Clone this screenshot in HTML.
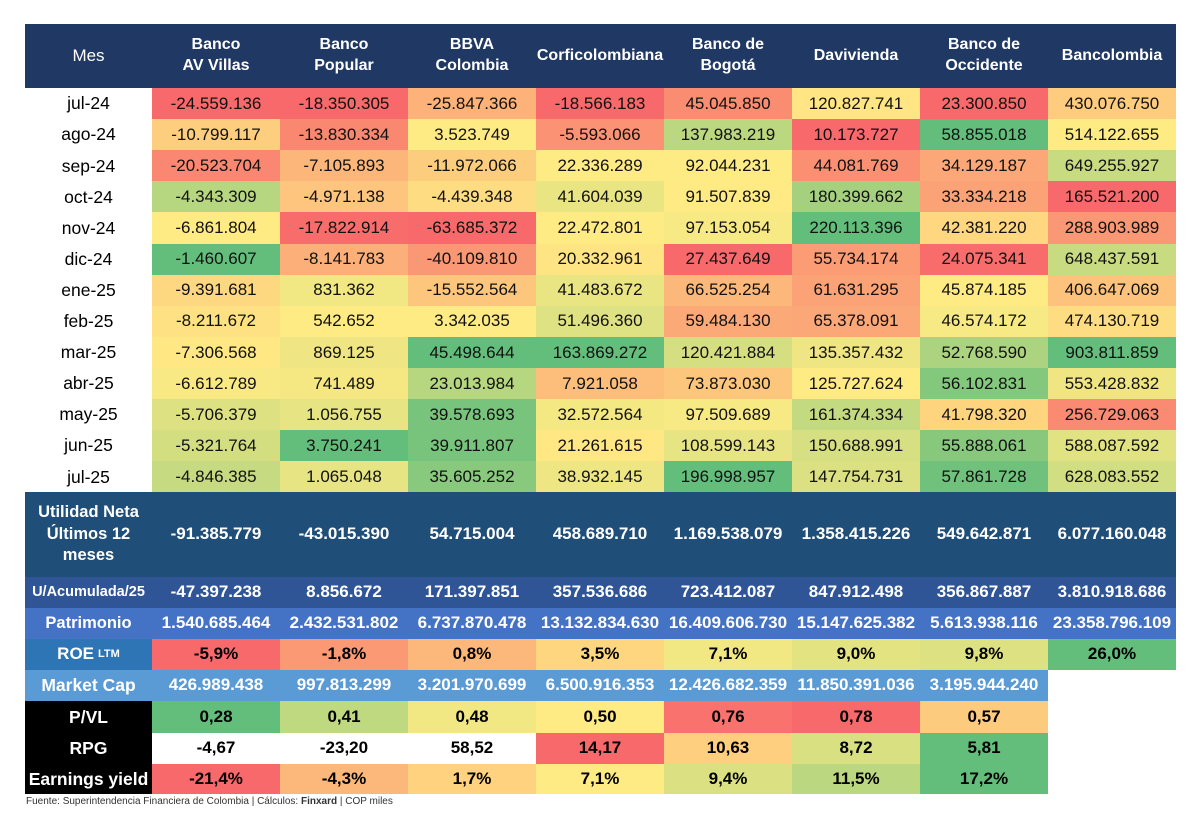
<!DOCTYPE html>
<html><head><meta charset="utf-8">
<style>
body{margin:0;width:1200px;height:819px;background:#fff;font-family:"Liberation Sans",sans-serif;position:relative;overflow:hidden}
.c{position:absolute;display:flex;align-items:center;justify-content:center;text-align:center;box-sizing:border-box;line-height:1.3}
#foot{position:absolute;left:26px;top:796px;font-size:10px;color:#333}
</style></head><body>
<div id="tbl"></div>
<div id="foot">Fuente: Superintendencia Financiera de Colombia | Cálculos: <b>Finxard</b> | COP miles</div>
<script>
const banks=["Banco<br>AV Villas","Banco<br>Popular","BBVA<br>Colombia","Corficolombiana","Banco de<br>Bogotá","Davivienda","Banco de<br>Occidente","Bancolombia"];
const months=["jul-24","ago-24","sep-24","oct-24","nov-24","dic-24","ene-25","feb-25","mar-25","abr-25","may-25","jun-25","jul-25"];
const avVillas=[-24559136,-10799117,-20523704,-4343309,-6861804,-1460607,-9391681,-8211672,-7306568,-6612789,-5706379,-5321764,-4846385];
const popular=[-18350305,-13830334,-7105893,-4971138,-17822914,-8141783,831362,542652,869125,741489,1056755,3750241,1065048];
const bbva=[-25847366,3523749,-11972066,-4439348,-63685372,-40109810,-15552564,3342035,45498644,23013984,39578693,39911807,35605252];
const corfi=[-18566183,-5593066,22336289,41604039,22472801,20332961,41483672,51496360,163869272,7921058,32572564,21261615,38932145];
const bogota=[45045850,137983219,92044231,91507839,97153054,27437649,66525254,59484130,120421884,73873030,97509689,108599143,196998957];
const davivienda=[120827741,10173727,44081769,180399662,220113396,55734174,61631295,65378091,135357432,125727624,161374334,150688991,147754731];
const occidente=[23300850,58855018,34129187,33334218,42381220,24075341,45874185,46574172,52768590,56102831,41798320,55888061,57861728];
const bancolombia=[430076750,514122655,649255927,165521200,288903989,648437591,406647069,474130719,903811859,553428832,256729063,588087592,628083552];
const monthly=[avVillas,popular,bbva,corfi,bogota,davivienda,occidente,bancolombia];
const utilLTM=[-91385779,-43015390,54715004,458689710,1169538079,1358415226,549642871,6077160048];
const uAcum=[-47397238,8856672,171397851,357536686,723412087,847912498,356867887,3810918686];
const patrimonio=[1540685464,2432531802,6737870478,13132834630,16409606730,15147625382,5613938116,23358796109];
const roe=[-5.9,-1.8,0.8,3.5,7.1,9.0,9.8,26.0];
const marketCap=[426989438,997813299,3201970699,6500916353,12426682359,11850391036,3195944240];
const pvl=[0.28,0.41,0.48,0.50,0.76,0.78,0.57];
const rpg=[-4.67,-23.20,58.52,14.17,10.63,8.72,5.81];
const rpgColored=[false,false,false,true,true,true,true];
const ey=[-21.4,-4.3,1.7,7.1,9.4,11.5,17.2];

const X0=25,W0=127,CW=128;
const T=document.getElementById('tbl');
function cell(x,y,w,h,html,st){const d=document.createElement('div');d.className='c';
d.style.cssText=`left:${x}px;top:${y}px;width:${w}px;height:${h}px;`+st;d.innerHTML=html;T.appendChild(d);return d;}
function fmt(n){const s=Math.abs(Math.round(n)).toString().replace(/\B(?=(\d{3})+(?!\d))/g,'.');return (n<0?'-':'')+s;}
function dec(n,k){return n.toFixed(k).replace('.',',');}
const R=[248,105,107],Y=[255,235,132],G=[99,190,123];
function mix(a,b,t){return `rgb(${a.map((v,i)=>Math.round(v+(b[i]-v)*t)).join(',')})`;}
function median(a){const s=[...a].sort((p,q)=>p-q),m=s.length>>1;return s.length%2?s[m]:(s[m-1]+s[m])/2;}
function scale(v,arr,rev){const mn=Math.min(...arr),mx=Math.max(...arr),md=median(arr);
 let lo=R,hi=G;if(rev){lo=G;hi=R;}
 if(v<=md)return mix(lo,Y,md===mn?1:(v-mn)/(md-mn));return mix(Y,hi,(v-md)/(mx-md));}
const colX=i=>X0+W0+i*CW;

cell(X0,24,W0,64,'Mes','background:#203864;color:#fff;font-size:17px;');
banks.forEach((b,i)=>{const d=cell(colX(i),24,CW,64,b,'background:#203864;color:#fff;font-weight:bold;font-size:16px;');

});
months.forEach((m,r)=>{const y=88+r*31.1;
 const l=cell(X0,y,W0,31.5,m,'background:#fff;color:#000;font-size:17.5px;');
 
 
 monthly.forEach((col,i)=>{const d=cell(colX(i),y,CW,31.5,fmt(col[r]),`background:${scale(col[r],col)};color:#111;font-size:17px;`);
  
  });
});
function summary(y,h,label,vals,bg,lstyle){
 const l=cell(X0,y,W0,h,label,`background:${bg};color:#fff;font-weight:bold;font-size:16.5px;${lstyle||''}`);
 
 
 vals.forEach((v,i)=>{const d=cell(colX(i),y,CW,h,fmt(v),`background:${bg};color:#fff;font-weight:bold;font-size:17px;`);
  
  });
}
summary(492,85,'Utilidad Neta<br>Últimos 12<br>meses',utilLTM,'#1F4E79');
summary(577,31,'U/Acumulada/25',uAcum,'#2F5597','font-size:14.5px;');
summary(608,31,'Patrimonio',patrimonio,'#4472C4');
let l=cell(X0,639,W0,31,'ROE <span style="font-size:11px;margin-left:4px">LTM</span>','background:#2E75B6;color:#fff;font-weight:bold;font-size:17px;');

roe.forEach((v,i)=>{const d=cell(colX(i),639,CW,31,dec(v,1)+'%',`background:${scale(v,roe)};color:#000;font-weight:bold;font-size:17px;`);
 
 });
summary(670,31,'Market Cap',marketCap,'#5B9BD5','font-size:17.5px;');
function bottom(y,h,label,vals,fn,rev,mask){
 const l=cell(X0,y,W0,h,label,'background:#000;color:#fff;font-weight:bold;font-size:17.5px;');
 
 
 const sub=vals.filter((v,i)=>!mask||mask[i]);
 vals.forEach((v,i)=>{const bg=(!mask||mask[i])?scale(v,sub,rev):'#fff';
  const d=cell(colX(i),y,CW,h,fn(v),`background:${bg};color:#000;font-weight:bold;font-size:17px;`);
  
  });
}
bottom(701,32,'P/VL',pvl,v=>dec(v,2),true);
bottom(733,31,'RPG',rpg,v=>dec(v,2),true,rpgColored);
bottom(764,30,'Earnings yield',ey,v=>dec(v,1)+'%',false);
</script>
</body></html>
